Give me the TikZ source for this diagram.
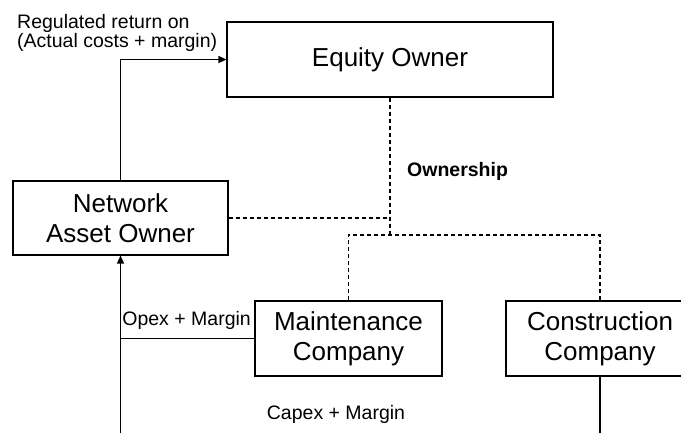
\documentclass[tikz,border=0pt]{standalone}
\usepackage{fontspec}
\setmainfont{Liberation Sans}
\usetikzlibrary{arrows.meta}
\begin{document}
\begin{tikzpicture}[x=1pt,y=-1pt,
  entity/.style={draw,line width=1.1pt,rectangle,align=center,inner sep=0pt,
    font=\fontsize{26}{30}\selectfont},
  lbl/.style={inner sep=0pt,font=\fontsize{19.5}{20}\selectfont},
  flow/.style={line width=1.3pt,-{Triangle[length=8pt,width=7pt]}},
  link/.style={line width=1.3pt},
  own/.style={line width=1.1pt,dash pattern=on 4pt off 3pt},
  ownmain/.style={line width=1.8pt,dash pattern=on 4pt off 3pt}]
\useasboundingbox (0,0) rectangle (681,433);

% organisations
\node[entity,minimum width=326pt,minimum height=75pt] (eq) at (390,59.5) {Equity Owner};
\node[entity,minimum width=215pt,minimum height=74pt] (nao) at (120.5,218) {Network\\Asset Owner};
\node[entity,minimum width=187pt,minimum height=75pt] (mc) at (348.5,338.5) {Maintenance\\Company};
\node[entity,minimum width=188pt,minimum height=75pt] (cc) at (600,338.5) {Construction\\Company};

% free ends and junctions
\coordinate (split) at (390,235);
\coordinate (naofoot) at (120.5,433);
\coordinate (ccfoot) at (600,433);

% money flows
\draw[flow] (nao.north) |- (eq.west);
\draw[flow] (naofoot) -- (nao.south);
\draw[link] (mc.west) -- (mc.west -| nao.south);
\draw[link] (cc.south) -- (ccfoot);

% ownership structure
\draw[ownmain] (eq.south) -- (split);
\draw[own] (nao.east) -- (nao.east -| split);
\draw[own] (mc.north) |- (cc.north |- split) -- (cc.north);

% labels
\node[lbl,anchor=base west] (reg1) at (17,29) {Regulated return on};
\node[lbl,anchor=base west] (reg2) at (17,48) {(Actual costs + margin)};
\node[lbl,anchor=base west,font=\fontsize{19.5}{20}\selectfont\bfseries] (ownl) at (407,177) {Ownership};
\node[lbl,anchor=base east] (opex) at (251,326) {Opex + Margin};
\node[lbl,anchor=base] (capex) at (336,419) {Capex + Margin};
\end{tikzpicture}
\end{document}
